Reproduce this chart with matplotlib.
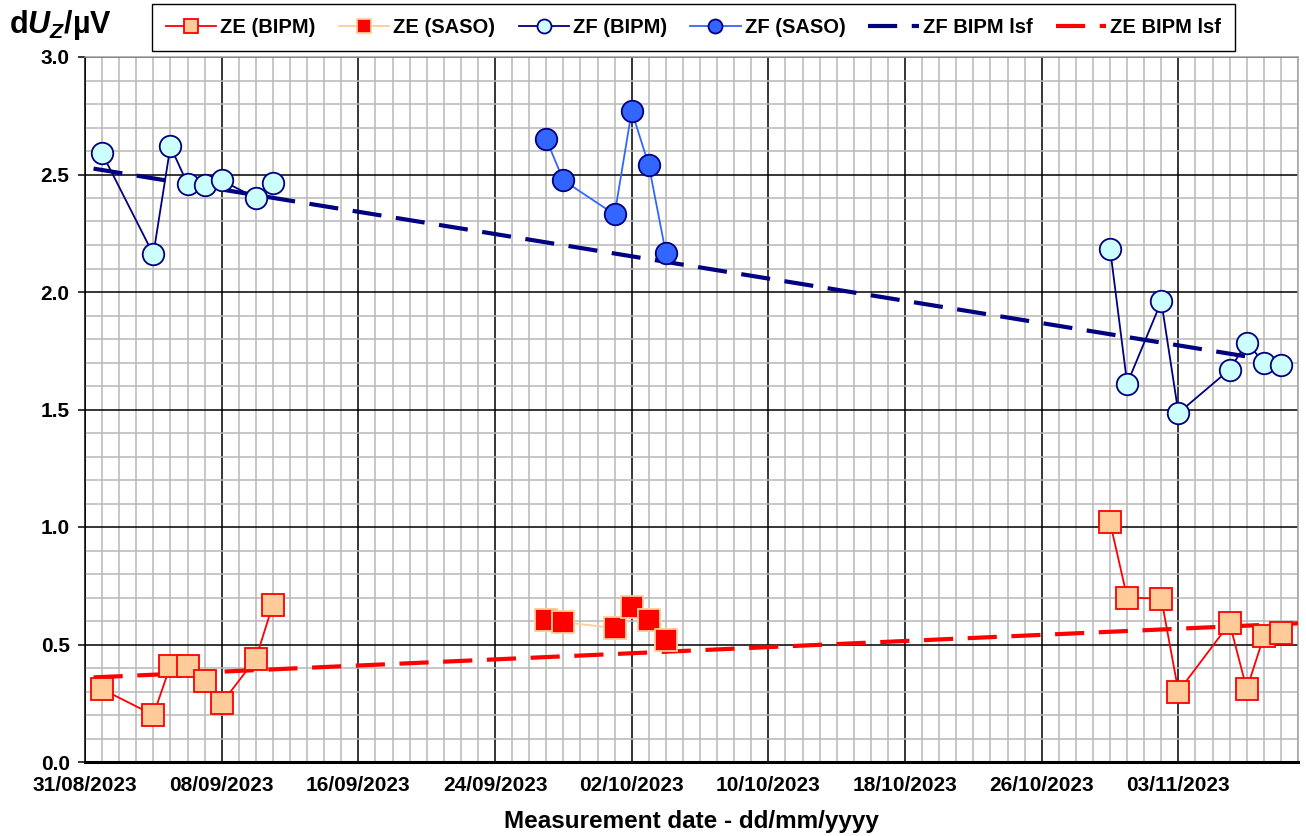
#!/usr/bin/env python3
"""Zener voltage drift dU_Z: ZE / ZF references measured at BIPM and SASO."""
import matplotlib
matplotlib.use("Agg")
import matplotlib.pyplot as plt
import matplotlib.dates as mdates
import numpy as np
import pandas as pd

# ZE / ZF measured at BIPM (two campaigns)
BIPM_DATES = ["2023-09-01", "2023-09-04", "2023-09-05", "2023-09-06",
              "2023-09-07", "2023-09-08", "2023-09-10", "2023-09-11",
              "2023-10-30", "2023-10-31", "2023-11-02", "2023-11-03",
              "2023-11-06", "2023-11-07", "2023-11-08", "2023-11-09"]
ZE_BIPM = [0.31, 0.20, 0.41, 0.41, 0.345, 0.25, 0.44, 0.67,
           1.02, 0.70, 0.695, 0.30, 0.59, 0.31, 0.535, 0.55]
ZF_BIPM = [2.59, 2.16, 2.62, 2.46, 2.455, 2.475, 2.40, 2.465,
           2.185, 1.61, 1.96, 1.485, 1.67, 1.785, 1.70, 1.69]

# ZE / ZF measured at SASO
SASO_DATES = ["2023-09-27", "2023-09-28", "2023-10-01", "2023-10-02",
              "2023-10-03", "2023-10-04"]
ZE_SASO = [0.605, 0.595, 0.57, 0.66, 0.605, 0.52]
ZF_SASO = [2.65, 2.475, 2.33, 2.77, 2.54, 2.165]

# least-squares fit lines (end points)
LSF_DATES = ["2023-08-31 12:00", "2023-11-10 00:00"]
ZF_LSF = [2.525, 1.69]
ZE_LSF = [0.36, 0.59]

X_START, X_END = "2023-08-31", "2023-11-10"


def with_breaks(dates, values, max_gap_days=10):
    """Insert a NaN between campaigns so the line is not joined across them."""
    d = list(dates)
    v = list(values)
    out_d, out_v = [d[0]], [v[0]]
    for i in range(1, len(d)):
        if (d[i] - d[i - 1]).days > max_gap_days:
            out_d.append(d[i - 1] + (d[i] - d[i - 1]) / 2)
            out_v.append(np.nan)
        out_d.append(d[i])
        out_v.append(v[i])
    return out_d, out_v


def main() -> int:
    plt.rcParams.update({
        "font.family": ["Liberation Sans", "DejaVu Sans"],
        "font.weight": "bold",
        "mathtext.fontset": "custom",
        "mathtext.it": "Liberation Sans:bold:italic",
        "mathtext.rm": "Liberation Sans:bold",
        "mathtext.bf": "Liberation Sans:bold",
    })
    fig = plt.figure(figsize=(13.06, 8.36), dpi=100)
    ax = fig.add_axes([85 / 1306, 1 - 762 / 836, 1213 / 1306, 705 / 836])

    bd = pd.to_datetime(BIPM_DATES)
    sd = pd.to_datetime(SASO_DATES)
    ld = pd.to_datetime(LSF_DATES)

    ms = 15.5
    lw = 1.3
    ax.plot(*with_breaks(bd, ZE_BIPM), color="#ff0000", lw=lw, marker="s",
            ms=ms, mfc="#ffcc99", mec="#ff0000", mew=1.3,
            label="ZE (BIPM)", zorder=4)
    ax.plot(sd, ZE_SASO, color="#ffcc99", lw=lw, marker="s", ms=ms,
            mfc="#ff0000", mec="#ffcc99", mew=1.3, label="ZE (SASO)", zorder=4)
    ax.plot(*with_breaks(bd, ZF_BIPM), color="#000080", lw=lw, marker="o",
            ms=ms, mfc="#ccffff", mec="#000080", mew=1.3,
            label="ZF (BIPM)", zorder=4)
    ax.plot(sd, ZF_SASO, color="#3366ff", lw=lw, marker="o", ms=ms,
            mfc="#3366ff", mec="#000080", mew=1.3, label="ZF (SASO)", zorder=4)
    ax.plot(ld, ZF_LSF, color="#000080", lw=3.0, dashes=(7, 3.5),
            label="ZF BIPM lsf", zorder=3)
    ax.plot(ld, ZE_LSF, color="#ff0000", lw=3.0, dashes=(7, 3.5),
            label="ZE BIPM lsf", zorder=3)

    ax.set_xlim(pd.Timestamp(X_START), pd.Timestamp(X_END))
    ax.set_ylim(0, 3.0)
    major = pd.date_range(X_START, periods=9, freq="8D")
    ax.xaxis.set_major_locator(matplotlib.ticker.FixedLocator(mdates.date2num(major)))
    ax.xaxis.set_major_formatter(mdates.DateFormatter("%d/%m/%Y"))
    ax.xaxis.set_minor_locator(mdates.DayLocator(interval=1))
    ax.yaxis.set_major_locator(matplotlib.ticker.MultipleLocator(0.5))
    ax.yaxis.set_minor_locator(matplotlib.ticker.MultipleLocator(0.1))
    ax.yaxis.set_major_formatter(matplotlib.ticker.FormatStrFormatter("%.1f"))

    ax.grid(which="minor", color="#b8b8b8", lw=1.1, zorder=0)
    ax.grid(which="major", color="black", lw=1.1, zorder=1)
    ax.set_axisbelow(True)
    ax.tick_params(axis="both", which="minor", length=0)
    ax.tick_params(axis="x", which="major", length=0, pad=10, labelsize=15)
    ax.tick_params(axis="y", which="major", length=5, width=1.1, pad=6,
                   labelsize=15)
    for lab in ax.get_xticklabels() + ax.get_yticklabels():
        lab.set_fontweight("bold")

    for side in ("top", "right"):
        ax.spines[side].set_color("#a0a0a0")
        ax.spines[side].set_linewidth(1.1)
    ax.spines["left"].set_linewidth(1.1)
    ax.spines["bottom"].set_linewidth(2.2)

    ax.set_xlabel("Measurement date - dd/mm/yyyy", fontsize=17.5,
                  fontweight="bold", labelpad=11)
    fig.text(9 / 1306, 1 - 8 / 836, r"d$U_Z$/µV", fontsize=22,
             fontweight="bold", ha="left", va="top")

    leg = fig.legend(loc="upper left", bbox_to_anchor=(152 / 1306, 1 - 4 / 836),
                     borderaxespad=0, ncol=6, fontsize=14.5, frameon=True,
                     fancybox=False, edgecolor="black", framealpha=1,
                     markerscale=0.65, handlelength=2.5, handletextpad=0.2,
                     columnspacing=1.15, borderpad=0.7)
    leg.get_frame().set_linewidth(1.0)
    for t in leg.get_texts():
        t.set_fontweight("bold")

    fig.savefig("out.png", dpi=100)
    return 0


if __name__ == "__main__":
    raise SystemExit(main())
